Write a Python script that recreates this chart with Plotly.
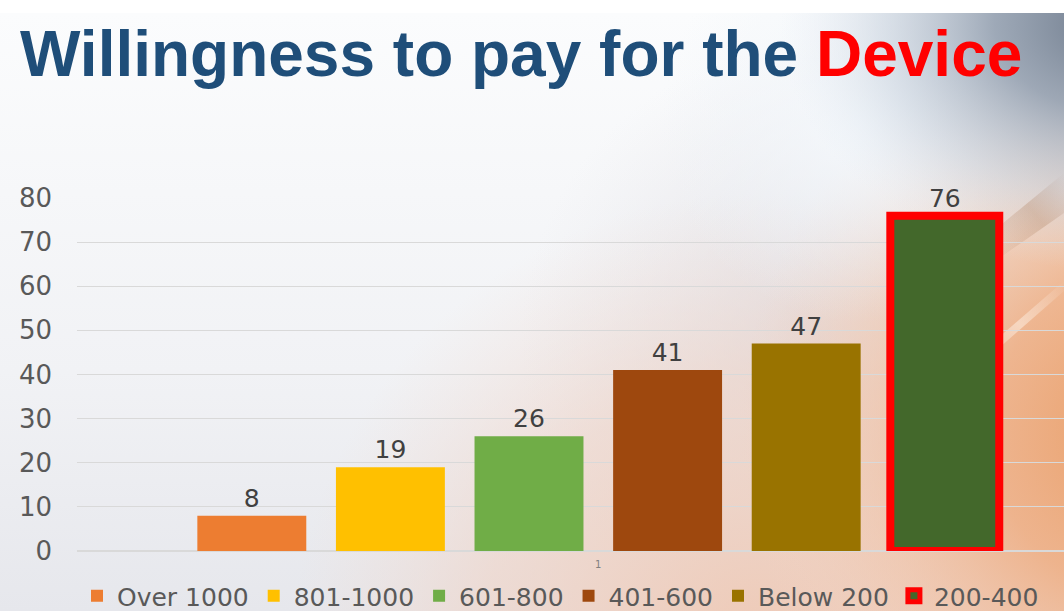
import base64
import plotly.graph_objects as go

# Survey results: willingness to pay, by price band
categories = ["1"]
series_names = ["Over 1000", "801-1000", "601-800", "401-600", "Below 200", "200-400"]
series_values = [8, 19, 26, 41, 47, 76]
series_colors = ["#ed7d31", "#ffc000", "#70ad47", "#9e480e", "#997300", "#43682b"]
y_ticks = [0, 10, 20, 30, 40, 50, 60, 70, 80]

W, H = 1064, 611
M_L, M_R, M_T, M_B = 77, 0, 198, 60

# Soft slide backdrop: pale left side, slate top-right, warm sunset bottom-right
bg_svg = f"""<svg xmlns='http://www.w3.org/2000/svg' width='{W}' height='598' viewBox='0 0 {W} 598' preserveAspectRatio='none'>
<defs>
<linearGradient id='base' x1='0' y1='0' x2='0' y2='1'>
<stop offset='0' stop-color='#fbfcfd'/><stop offset='0.6' stop-color='#f1f2f5'/><stop offset='1' stop-color='#e6e7ec'/>
</linearGradient>
<radialGradient id='mid' cx='820' cy='330' r='300' gradientUnits='userSpaceOnUse'>
<stop offset='0' stop-color='#d9d6dc' stop-opacity='0.8'/>
<stop offset='1' stop-color='#e4e2e6' stop-opacity='0'/>
</radialGradient>
<radialGradient id='low' cx='760' cy='650' r='470' gradientUnits='userSpaceOnUse'>
<stop offset='0' stop-color='#efc6b0' stop-opacity='0.95'/>
<stop offset='0.6' stop-color='#f0d2c4' stop-opacity='0.6'/>
<stop offset='1' stop-color='#f2dcd2' stop-opacity='0'/>
</radialGradient>
<radialGradient id='warm' cx='1160' cy='420' r='420' gradientUnits='userSpaceOnUse'>
<stop offset='0' stop-color='#e8995f' stop-opacity='1'/>
<stop offset='0.4' stop-color='#eeac80' stop-opacity='0.85'/>
<stop offset='0.75' stop-color='#f1c4a8' stop-opacity='0.45'/>
<stop offset='1' stop-color='#f3d2c0' stop-opacity='0'/>
</radialGradient>
<radialGradient id='haze' cx='860' cy='110' r='200' gradientUnits='userSpaceOnUse'>
<stop offset='0' stop-color='#f4f8fc' stop-opacity='0.9'/>
<stop offset='1' stop-color='#eef3f8' stop-opacity='0'/>
</radialGradient>
<radialGradient id='slate' cx='1110' cy='10' r='330' gradientUnits='userSpaceOnUse'
 gradientTransform='translate(1110 10) scale(1 0.75) translate(-1110 -10)'>
<stop offset='0' stop-color='#6e7a8b' stop-opacity='1'/>
<stop offset='0.35' stop-color='#94a0b0' stop-opacity='0.9'/>
<stop offset='0.7' stop-color='#c6d0dc' stop-opacity='0.55'/>
<stop offset='1' stop-color='#e3eaf2' stop-opacity='0'/>
</radialGradient>
<linearGradient id='streak' x1='0' y1='1' x2='1' y2='0'>
<stop offset='0' stop-color='#ffffff' stop-opacity='0'/>
<stop offset='0.5' stop-color='#fff4ea' stop-opacity='0.5'/>
<stop offset='1' stop-color='#ffffff' stop-opacity='0'/>
</linearGradient>
<linearGradient id='dusk' x1='0' y1='1' x2='1' y2='0'>
<stop offset='0' stop-color='#b07c58' stop-opacity='0'/>
<stop offset='0.6' stop-color='#a87652' stop-opacity='0.28'/>
<stop offset='1' stop-color='#907060' stop-opacity='0'/>
</linearGradient>
</defs>
<rect width='{W}' height='598' fill='url(#base)'/>
<rect width='{W}' height='598' fill='url(#mid)'/>
<rect width='{W}' height='598' fill='url(#low)'/>
<rect width='{W}' height='598' fill='url(#warm)'/>
<rect width='{W}' height='598' fill='url(#haze)'/>
<rect width='{W}' height='598' fill='url(#slate)'/>
<polygon points='985,225 1064,160 1064,200 985,255' fill='url(#dusk)'/>
<polygon points='975,345 1064,268 1064,278 975,356' fill='url(#streak)'/>
</svg>"""
bg_src = "data:image/svg+xml;base64," + base64.b64encode(bg_svg.encode()).decode()

plot_w = W - M_L - M_R
plot_h = H - M_T - M_B

fig = go.Figure()
for name, val, col in zip(series_names, series_values, series_colors):
    line = dict(width=8, color="#ff0000") if name == "200-400" else dict(width=0)
    fig.add_trace(go.Bar(
        name=name, x=categories, y=[val],
        marker=dict(color=col, line=line),
        text=[val], textposition="outside", cliponaxis=False,
        textfont=dict(family="DejaVu Sans", size=25, color="#404040"),
    ))

cat_px = 1042.6
fig.update_layout(
    width=W, height=H,
    margin=dict(l=M_L, r=M_R, t=M_T, b=M_B, pad=0),
    paper_bgcolor="#ffffff", plot_bgcolor="rgba(0,0,0,0)",
    barmode="group", bargap=0.2024, bargroupgap=0.214,
    title=dict(
        text="<b>Willingness to pay for the <span style='color:#ff0000'>Device</span></b>",
        font=dict(family="Liberation Sans", size=64, color="#1f4e79"),
        x=20 / W, xanchor="left", xref="container",
        y=1 - 54 / H, yanchor="middle", yref="container",
    ),
    xaxis=dict(
        type="category", range=[-0.5, (W - M_L) / cat_px - 0.5],
        showgrid=False, showline=False, zeroline=False,
        tickfont=dict(family="DejaVu Sans", size=10, color="#808080"),
        ticklabelstandoff=6,
    ),
    yaxis=dict(
        range=[0, 80], tickvals=y_ticks,
        gridcolor="#d9d9d9", gridwidth=1, zeroline=True, zerolinecolor="#d9d9d9",
        showline=False,
        tickfont=dict(family="DejaVu Sans", size=26, color="#595959"),
        ticklabelstandoff=24,
    ),
    legend=dict(
        orientation="h", x=0, xanchor="left",
        y=1 - 596 / H, yanchor="middle", yref="container",
        font=dict(family="DejaVu Sans", size=25, color="#595959"),
        bgcolor="rgba(0,0,0,0)", itemclick=False,
    ),
    showlegend=True,
    images=[dict(
        source=bg_src, xref="paper", yref="paper",
        x=-M_L / plot_w, y=1 + (M_T - 13) / plot_h,
        sizex=W / plot_w, sizey=598 / plot_h,
        sizing="stretch", xanchor="left", yanchor="top", layer="below",
    )],
)

fig.write_html("out.html")
